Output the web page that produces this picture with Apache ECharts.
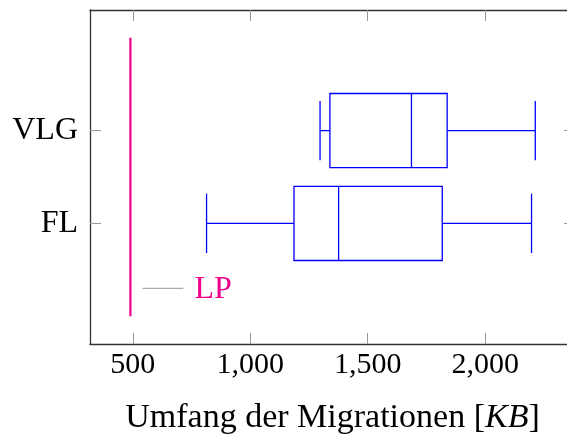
<!DOCTYPE html>
<html>
<head>
<meta charset="utf-8">
<script src="https://cdn.jsdelivr.net/npm/echarts@6/dist/echarts.min.js"></script>
<style>
  html, body { margin: 0; padding: 0; background: #fff; }
  #chart { width: 567px; height: 434px; }
</style>
</head>
<body>
<div id="chart"></div>
<script>
// Migration sizes per strategy (KB): whisker low, lower quartile, median, upper quartile, whisker high
const categories = ['FL', 'VLG'];
const whiskerLow  = [814, 1297];
const lowerQuart  = [1186, 1339];
const medians     = [1376, 1686];
const upperQuart  = [1817, 1838];
const whiskerHigh = [2197, 2213];

// Reference value for LP, drawn as a vertical line across the plot
const lpValue = 490;
const lpSpan = [-1, 2];
const lpLabelLevel = -0.7;

const xTicks = [500, 1000, 1500, 2000];

const serif = '"Liberation Serif", "DejaVu Serif", serif';
const boxColor = '#0000ff';
const lpColor = '#ec008c';

const boxData = categories.map((c, i) => [i, whiskerLow[i], lowerQuart[i], medians[i], upperQuart[i], whiskerHigh[i]]);

function renderBox(params, api) {
  const y = api.value(0);
  const unit = api.size([0, 1])[1];
  const boxHalf = 0.4 * unit;
  const capHalf = 0.32 * unit;
  const pt = k => api.coord([api.value(k), y]);
  const lo = pt(1), q1 = pt(2), md = pt(3), q3 = pt(4), hi = pt(5);
  const cy = lo[1];
  const style = { stroke: boxColor, lineWidth: 1.3, fill: null };
  const line = (x1, y1, x2, y2) => ({ type: 'line', shape: { x1, y1, x2, y2 }, style });
  return {
    type: 'group',
    children: [
      line(lo[0], cy, q1[0], cy),
      line(lo[0], cy - capHalf, lo[0], cy + capHalf),
      { type: 'rect', shape: { x: q1[0], y: cy - boxHalf, width: q3[0] - q1[0], height: 2 * boxHalf }, style },
      line(md[0], cy - boxHalf, md[0], cy + boxHalf),
      line(q3[0], cy, hi[0], cy),
      line(hi[0], cy - capHalf, hi[0], cy + capHalf)
    ]
  };
}

function renderLpLabel(params, api) {
  const p = api.coord([api.value(0), api.value(1)]);
  return {
    type: 'group',
    children: [
      { type: 'line', shape: { x1: p[0] + 12, y1: p[1], x2: p[0] + 53, y2: p[1] },
        style: { stroke: '#aaaaaa', lineWidth: 1.2 } },
      { type: 'text', x: p[0] + 64, y: p[1] + 1,
        style: { text: 'LP', fill: lpColor, font: '32px ' + serif, textVerticalAlign: 'middle' } }
    ]
  };
}

const axisLineStyle = { color: '#333333', width: 1.3 };
const tickStyle = { color: '#999999', width: 1 };

const chart = echarts.init(document.getElementById('chart'));
chart.setOption({
  animation: false,
  grid: { left: 90, top: 10, width: 485, height: 334, outerBoundsMode: 'none', containLabel: false },
  xAxis: [
    {
      type: 'value', position: 'bottom', min: 318, max: 2382,
      axisLine: { show: true, onZero: false, lineStyle: axisLineStyle },
      axisTick: { show: true, inside: true, length: 11, lineStyle: tickStyle, customValues: xTicks },
      axisLabel: {
        show: true, customValues: xTicks, margin: 6,
        fontFamily: serif, fontSize: 30, color: '#000',
        formatter: v => v.toLocaleString('en-US')
      },
      splitLine: { show: false },
      name: 'Umfang der Migrationen [{i|K}{i|B}]',
      nameLocation: 'middle', nameGap: 57,
      nameTextStyle: {
        fontFamily: serif, fontSize: 34, color: '#000',
        rich: { i: { fontFamily: serif, fontSize: 34, fontStyle: 'italic', color: '#000' } }
      }
    },
    {
      type: 'value', position: 'top', min: 318, max: 2382,
      axisLine: { show: true, onZero: false, lineStyle: axisLineStyle },
      axisTick: { show: true, inside: true, length: 11, lineStyle: tickStyle, customValues: xTicks },
      axisLabel: { show: false },
      splitLine: { show: false }
    }
  ],
  yAxis: [
    {
      type: 'value', position: 'left', min: -1.3, max: 2.3,
      axisLine: { show: true, onZero: false, lineStyle: axisLineStyle },
      axisTick: { show: true, inside: true, length: 11, lineStyle: tickStyle, customValues: [0, 1] },
      axisLabel: {
        show: true, customValues: [0, 1], margin: 12,
        fontFamily: serif, fontSize: 32, color: '#000',
        formatter: v => categories[Math.round(v)] || ''
      },
      splitLine: { show: false }
    },
    {
      type: 'value', position: 'right', min: -1.3, max: 2.3,
      axisLine: { show: true, onZero: false, lineStyle: axisLineStyle },
      axisTick: { show: true, inside: true, length: 11, lineStyle: tickStyle, customValues: [0, 1] },
      axisLabel: { show: false },
      splitLine: { show: false }
    }
  ],
  series: [
    {
      type: 'line', name: 'LP', xAxisIndex: 0, yAxisIndex: 0,
      data: lpSpan.map(y => [lpValue, y]),
      showSymbol: false, symbol: 'none',
      lineStyle: { color: lpColor, width: 2.2 }
    },
    {
      type: 'custom', name: 'LP label', xAxisIndex: 0, yAxisIndex: 0,
      data: [[lpValue, lpLabelLevel]],
      encode: { x: 0, y: 1 },
      renderItem: renderLpLabel
    },
    {
      type: 'custom', name: 'Boxes', xAxisIndex: 0, yAxisIndex: 0,
      data: boxData,
      encode: { y: 0, x: [1, 2, 3, 4, 5] },
      renderItem: renderBox
    }
  ]
});
</script>
</body>
</html>
